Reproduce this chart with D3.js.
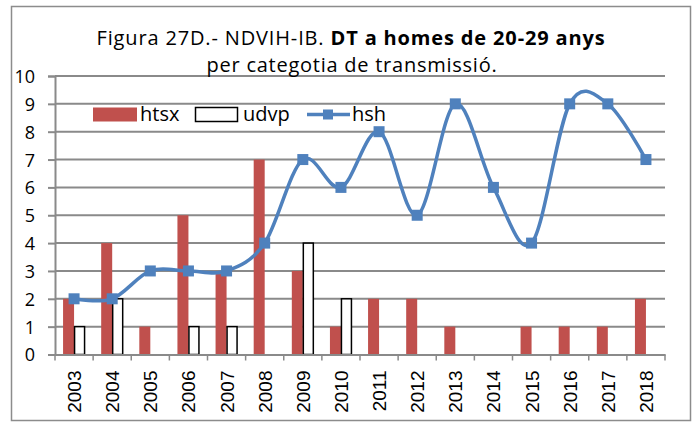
<!DOCTYPE html>
<html>
<head>
<meta charset="utf-8">
<script src="https://cdn.jsdelivr.net/npm/d3@7"></script>
<style>
  html, body { margin: 0; padding: 0; background: #fff; }
  svg { display: block; }
</style>
</head>
<body>
<svg id="chart" width="696" height="428"></svg>
<script>
// Annual new HIV diagnoses, men aged 20-29, by transmission category
const years = ["2003","2004","2005","2006","2007","2008","2009","2010",
               "2011","2012","2013","2014","2015","2016","2017","2018"];
const htsx = [2, 4, 1, 5, 3, 7, 3, 1, 2, 2, 1, 0, 1, 1, 1, 2];
const udvp = [1, 2, 0, 1, 1, 0, 4, 2, 0, 0, 0, 0, 0, 0, 0, 0];
const hsh  = [2, 2, 3, 3, 3, 4, 7, 6, 8, 5, 9, 6, 4, 9, 9, 7];
const yTicks = [0, 1, 2, 3, 4, 5, 6, 7, 8, 9, 10];
const seriesNames = ["htsx", "udvp", "hsh"];

const RED = "#C0504D", BLUE = "#4F81BD", GRID = "#8a8a8a";
const svg = d3.select("#chart");

// outer frame
svg.append("rect")
  .attr("x", 11.5).attr("y", 6.5).attr("width", 679).attr("height", 414)
  .attr("fill", "#fff").attr("stroke", "#8c8c8c").attr("stroke-width", 1.5);

const plotL = 55, plotR = 665, plotT = 76, plotB = 354.5;

const x = d3.scaleBand().domain(years).range([plotL, plotR]).paddingInner(0).paddingOuter(0);
const y = d3.scaleLinear().domain([0, 10]).range([plotB, plotT]);
const barW = 11;

// gridlines
svg.append("g").selectAll("line").data(yTicks.filter(d => d > 0)).join("line")
  .attr("x1", plotL).attr("x2", plotR)
  .attr("y1", d => y(d)).attr("y2", d => y(d))
  .attr("stroke", GRID).attr("stroke-width", 2);

// y axis
const yAxis = svg.append("g").attr("transform", `translate(${plotL},0)`)
  .call(d3.axisLeft(y).tickValues(yTicks).tickSize(7).tickPadding(13));
yAxis.select(".domain").attr("stroke", GRID).attr("stroke-width", 2);
yAxis.selectAll(".tick line").attr("stroke", GRID).attr("stroke-width", 2);
yAxis.selectAll("text")
  .attr("font-family", "'Open Sans', sans-serif").attr("font-size", 18)
  .attr("fill", "#000").attr("dy", "0.36em");

// htsx bars
svg.append("g").selectAll("rect").data(years).join("rect")
  .attr("x", d => x(d) + x.bandwidth() / 2 - barW)
  .attr("y", (d, i) => y(htsx[i]))
  .attr("width", barW)
  .attr("height", (d, i) => y(0) - y(htsx[i]))
  .attr("fill", RED);

// udvp bars (outlined)
svg.append("g").selectAll("rect").data(years.filter((d, i) => udvp[i] > 0)).join("rect")
  .attr("x", d => x(d) + x.bandwidth() / 2 + 0.5)
  .attr("y", d => y(udvp[years.indexOf(d)]))
  .attr("width", barW - 1)
  .attr("height", d => y(0) - y(udvp[years.indexOf(d)]))
  .attr("fill", "#fff").attr("stroke", "#000").attr("stroke-width", 1.5);

// x axis
const xAxis = svg.append("g").attr("transform", `translate(0,${plotB})`)
  .call(d3.axisBottom(x).tickSize(0).tickFormat(""));
xAxis.select(".domain").attr("stroke", GRID).attr("stroke-width", 2);
const bounds = years.map(d => x(d)).concat([plotR]);
svg.append("g").selectAll("line").data(bounds).join("line")
  .attr("x1", d => d).attr("x2", d => d)
  .attr("y1", plotB).attr("y2", plotB + 6)
  .attr("stroke", GRID).attr("stroke-width", 1.5);

svg.append("g").selectAll("text").data(years).join("text")
  .attr("transform", d => `translate(${x(d) + x.bandwidth() / 2 + 7},${plotB + 16}) rotate(-90)`)
  .attr("text-anchor", "end")
  .attr("font-family", "'Liberation Sans', Arial, sans-serif").attr("font-size", 19)
  .attr("fill", "#000")
  .text(d => d);

// hsh smoothed line with square markers
const line = d3.line()
  .x((d, i) => x(years[i]) + x.bandwidth() / 2)
  .y(d => y(d))
  .curve(d3.curveCardinal.tension(0));
svg.append("path").datum(hsh)
  .attr("d", line).attr("fill", "none")
  .attr("stroke", BLUE).attr("stroke-width", 3.5);
const mk = 11;
svg.append("g").selectAll("rect").data(hsh).join("rect")
  .attr("x", (d, i) => x(years[i]) + x.bandwidth() / 2 - mk / 2)
  .attr("y", d => y(d) - mk / 2)
  .attr("width", mk).attr("height", mk)
  .attr("fill", BLUE);

// legend
const lg = svg.append("g").attr("font-family", "'Open Sans', sans-serif").attr("font-size", 20).attr("fill", "#000");
lg.append("rect").attr("x", 93).attr("y", 107.5).attr("width", 44).attr("height", 14).attr("fill", RED);
lg.append("text").attr("x", 140).attr("y", 121).text(seriesNames[0]);
lg.append("rect").attr("x", 195.5).attr("y", 107.5).attr("width", 42).attr("height", 14)
  .attr("fill", "#fff").attr("stroke", "#000").attr("stroke-width", 1.5);
lg.append("text").attr("x", 243).attr("y", 121).text(seriesNames[1]);
lg.append("line").attr("x1", 307).attr("x2", 350).attr("y1", 114.5).attr("y2", 114.5)
  .attr("stroke", BLUE).attr("stroke-width", 3.5);
lg.append("rect").attr("x", 323).attr("y", 109.5).attr("width", 10).attr("height", 10).attr("fill", BLUE);
lg.append("text").attr("x", 352).attr("y", 121).text(seriesNames[2]);

// title
const title = svg.append("text")
  .attr("x", 351).attr("y", 45).attr("text-anchor", "middle")
  .attr("font-family", "'Open Sans', sans-serif").attr("font-size", 20)
  .attr("letter-spacing", 0.85).attr("fill", "#000");
title.append("tspan").text("Figura 27D.- NDVIH-IB. ");
title.append("tspan").attr("font-weight", "bold").text("DT a homes de 20-29 anys");
svg.append("text")
  .attr("x", 352).attr("y", 72).attr("text-anchor", "middle")
  .attr("font-family", "'Open Sans', sans-serif").attr("font-size", 20)
  .attr("letter-spacing", 0.75).attr("fill", "#000")
  .text("per categotia de transmissió.");
</script>
</body>
</html>
